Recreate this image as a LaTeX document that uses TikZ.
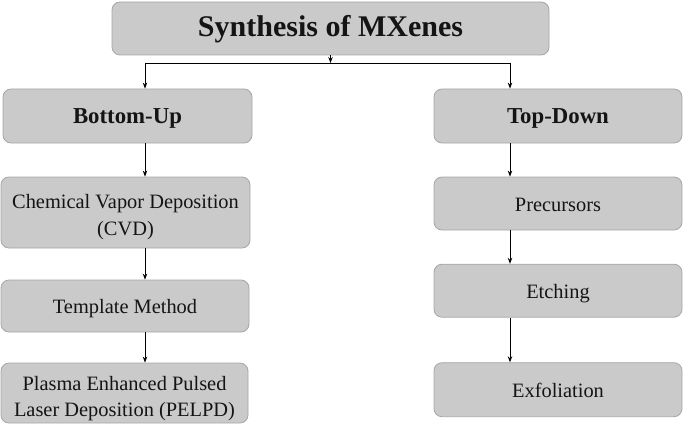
\documentclass[tikz,border=0pt]{standalone}
\usepackage{fontspec}
\setmainfont{Liberation Serif}
\usetikzlibrary{arrows.meta,calc}
\definecolor{boxfill}{HTML}{CACACA}
\definecolor{boxline}{HTML}{A6A6A6}
\begin{document}
\begin{tikzpicture}[x=1pt,y=-1pt,
  box/.style={draw=boxline,fill=boxfill,line width=0.8pt,rounded corners=8pt,
    inner sep=0pt,align=center,anchor=center,text=black!92},
  title/.style={box,font=\bfseries\fontsize{30}{34}\selectfont,text height=17pt,text depth=0pt},
  head/.style={box,font=\bfseries\fontsize{22.8}{26}\selectfont,text height=16pt,text depth=0pt},
  one/.style={box,font=\fontsize{20.4}{26}\selectfont,text height=16pt,text depth=0pt},
  two/.style={box,font=\fontsize{20.4}{26.5}\selectfont,text height=45pt,text depth=0pt},
  arr/.style={line width=0.9pt,-{Stealth[length=6pt,width=4.5pt]}},
  ln/.style={line width=0.9pt}]
\useasboundingbox (0,0) rectangle (685,425);
\node[title,minimum width=437pt,minimum height=53pt] (top) at (330.5,28.5) {Synthesis of MXenes};
\node[head,minimum width=249pt,minimum height=54pt] (bu) at (127.5,116) {Bottom-Up};
\node[head,minimum width=248pt,minimum height=54pt] (td) at (558,116) {Top-Down};
\node[two,minimum width=249pt,minimum height=71pt] (cvd) at (125.5,212.5) {Chemical Vapor Deposition\\(CVD)};
\node[one,minimum width=248pt,minimum height=52pt,text height=15pt] (tm) at (125,306) {Template Method};
\node[two,minimum width=247pt,minimum height=60pt,text height=47pt] (pel) at (124.5,393) {Plasma Enhanced Pulsed\\Laser Deposition (PELPD)};
\node[one,minimum width=248pt,minimum height=53pt,text height=15pt] (pre) at (558,203.5) {Precursors};
\node[one,minimum width=248pt,minimum height=53pt] (etc) at (558,290.7) {Etching};
\node[one,minimum width=248pt,minimum height=54pt] (exf) at (558,389.7) {Exfoliation};
\coordinate (j) at (330.5,63);
\coordinate (lx) at (145,0);
\coordinate (rx) at (510,0);
\draw[arr] (top.south) -- (j);
\draw[ln] (j) -- (j -| lx);
\draw[ln] (j) -- (j -| rx);
\draw[arr] (j -| lx) -- (bu.north -| lx);
\draw[arr] (j -| rx) -- (td.north -| rx);
\draw[arr] (bu.south -| lx) -- (cvd.north -| lx);
\draw[arr] (cvd.south -| lx) -- (tm.north -| lx);
\draw[arr] (tm.south -| lx) -- (pel.north -| lx);
\draw[arr] (td.south -| rx) -- (pre.north -| rx);
\draw[arr] (pre.south -| rx) -- (etc.north -| rx);
\draw[arr] (etc.south -| rx) -- (exf.north -| rx);
\end{tikzpicture}
\end{document}
